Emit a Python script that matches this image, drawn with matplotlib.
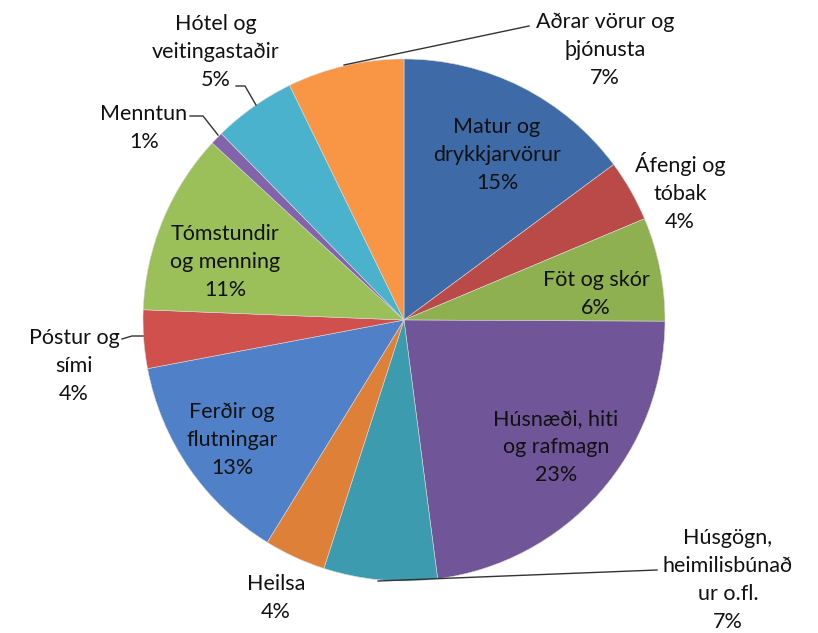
import matplotlib.pyplot as plt
import numpy as np

# categories, clockwise from 12 o'clock
categories = ['Matur og\ndrykkjarvörur', 'Áfengi og\ntóbak', 'Föt og skór', 'Húsnæði, hiti\nog rafmagn',
              'Húsgögn,\nheimilisbúnað\nur o.fl.', 'Heilsa', 'Ferðir og\nflutningar', 'Póstur og\nsími',
              'Tómstundir\nog menning', 'Menntun', 'Hótel og\nveitingastaðir', 'Aðrar vörur og\nþjónusta']
shares = [14.8, 3.8, 6.4, 22.8, 7.0, 3.8, 13.2, 3.6, 11.2, 0.8, 5.1, 7.2]
pct_labels = ['15%', '4%', '6%', '23%', '7%', '4%', '13%', '4%', '11%', '1%', '5%', '7%']

colors = ['#3F6AA8', '#B94A47', '#8FB050', '#705698', '#3C9BAF', '#DE8038',
          '#5080C8', '#D0504E', '#9BC05A', '#8264AA', '#4BB2CD', '#F89646']

# label layout in pixel coords of the 818x633 picture, pie centre (404,320), r=261
label_px = [(497, 155), (680, 192), (596, 294), (556, 447), (728, 580), (276, 598),
            (232, 440), (74, 366), (225, 262), (144, 128), (216, 52), (605, 50)]
# leader lines (pixel coords), only for the outside labels
leaders = {
    4: [(378, 581), (657, 570)],
    7: [(122, 339), (132, 336), (143, 336)],
    9: [(190, 116), (203, 116), (218, 135)],
    10: [(236, 86), (245, 86), (256, 105)],
    11: [(344, 65), (529, 26)],
}

CX, CY, R = 404, 320, 261


def to_data(px, py):
    return (px - CX) / R, (CY - py) / R


fig = plt.figure(figsize=(8.18, 6.33), dpi=100)
ax = fig.add_axes([0, 0, 1, 1])
ax.pie(shares, colors=colors, startangle=90, counterclock=False, radius=1,
       wedgeprops=dict(linewidth=0.4, edgecolor='#d8d8d8'))
ax.set_xlim(-CX / R, (818 - CX) / R)
ax.set_ylim(-(633 - CY) / R, CY / R)
ax.set_aspect('equal')
ax.axis('off')

for i, (name, pct) in enumerate(zip(categories, pct_labels)):
    x, y = to_data(*label_px[i])
    ax.text(x, y, name + '\n' + pct, ha='center', va='center', fontsize=15.5,
            family=['Lato', 'DejaVu Sans'], color='#111111', linespacing=1.5)

for i, pts in leaders.items():
    xs, ys = zip(*[to_data(px, py) for px, py in pts])
    ax.plot(xs, ys, color='#333333', linewidth=1)

fig.savefig('out.png', dpi=100)
